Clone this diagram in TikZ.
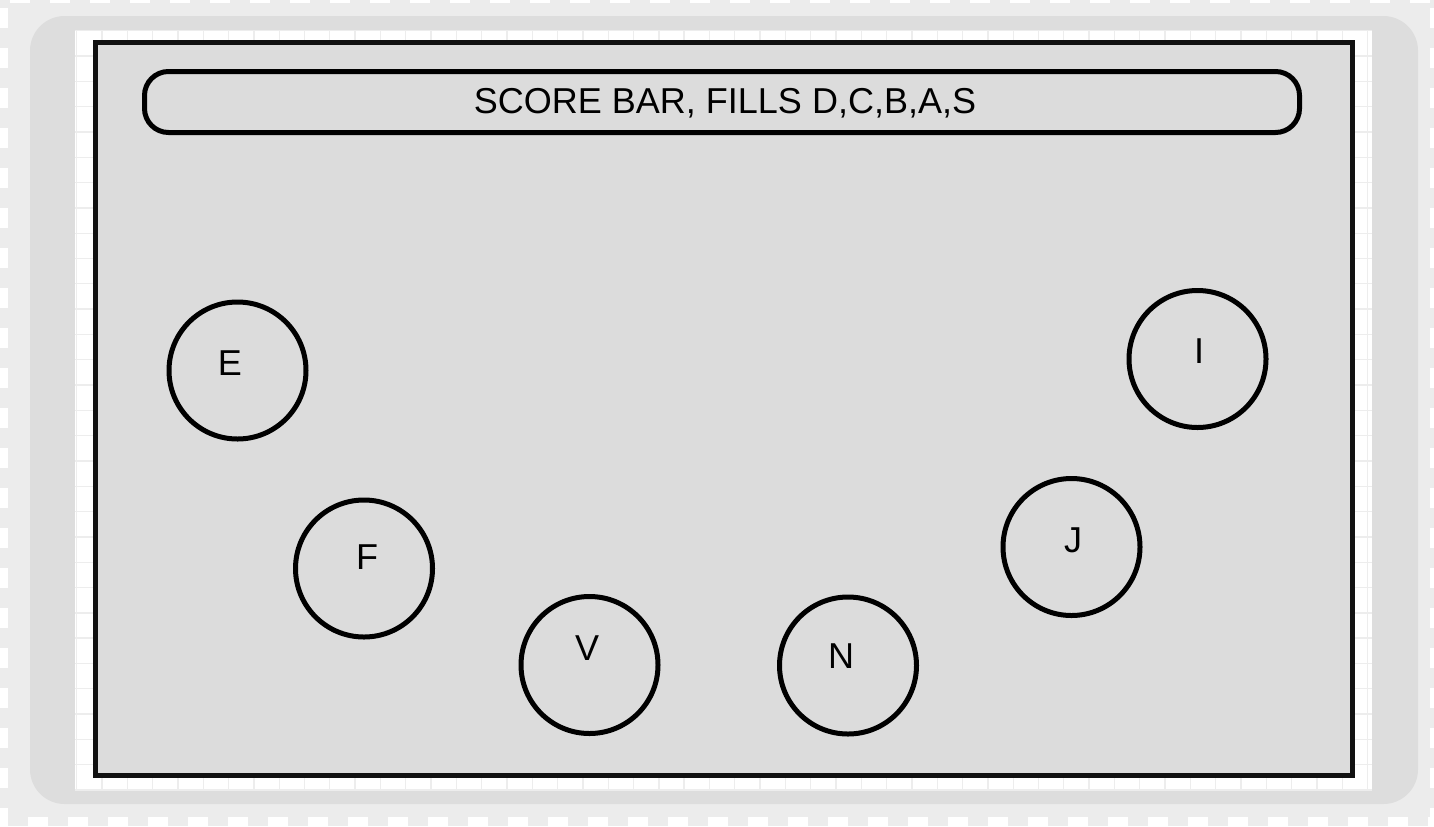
\documentclass[tikz,border=0pt]{standalone}
\usepackage{fontspec}
\setmainfont{Liberation Sans}
\definecolor{outerbg}{HTML}{ECECEC}
\definecolor{framegray}{HTML}{DDDDDD}
\definecolor{panelfill}{HTML}{DCDCDC}
\definecolor{gridc}{HTML}{EDEDED}
\definecolor{inkc}{HTML}{111111}
\tikzset{
  circnode/.style={circle, draw=black, line width=3.75pt, minimum size=137*0.75pt, inner sep=0pt},
  lbl/.style={font=\fontsize{27}{27}\selectfont, text=black, inner sep=0pt},
  barbox/.style={draw=black, line width=3.75pt, rounded corners=18pt, inner sep=0pt},
  edgedash/.style={white, dash pattern=on 15pt off 15pt}
}
\begin{document}
\begin{tikzpicture}[x=0.75pt,y=-0.75pt]
\useasboundingbox (0,0) rectangle (1434,826);
% outer background
\fill[outerbg] (0,0) rectangle (1434,826);
\draw[edgedash, line width=2.25pt, dash phase=22.5pt] (0,1.5) -- (1434,1.5);
\draw[edgedash, line width=6.75pt, dash phase=9pt] (0,821.5) -- (1434,821.5);
\draw[edgedash, line width=6pt, dash phase=24pt] (4,0) -- (4,826);
\draw[edgedash, line width=3pt, dash phase=24pt] (1432,0) -- (1432,826);
% gray rounded frame
\fill[framegray, rounded corners=26pt] (30,16) rectangle (1418,804);
% white grid area
\fill[white] (75,30) rectangle (1372,790);
\foreach \k in {0,...,51} {
  \draw[gridc, line width=1pt] ({76.7+25.31*\k},30) -- ({76.7+25.31*\k},790);
}
\foreach \k in {0,...,30} {
  \draw[gridc, line width=1pt] (75,{30.7+25.31*\k}) -- (1372,{30.7+25.31*\k});
}
% main panel
\draw[inkc, fill=panelfill, line width=3.75pt] (95,42.5) rectangle (1352.5,775);
% score bar
\node[barbox, minimum width=1155*0.75pt, minimum height=61*0.75pt] (bar) at (722,102) {};
\node[lbl] (bartext) at (725,103) {SCORE BAR, FILLS D,C,B,A,S};
% circles
\node[circnode] (E) at (237.5,370.5) {};
\node[circnode] (F) at (364,568.5) {};
\node[circnode] (V) at (589.5,665) {};
\node[circnode] (N) at (848,665.5) {};
\node[circnode] (J) at (1071.5,547) {};
\node[circnode] (I) at (1197.5,359) {};
% labels
\node[lbl] (Et) at (230,363) {E};
\node[lbl] (Ft) at (367,557) {F};
\node[lbl] (Vt) at (587,648) {V};
\node[lbl] (Nt) at (841,656) {N};
\node[lbl] (Jt) at (1073,540) {J};
\node[lbl] (It) at (1199,351) {I};
\end{tikzpicture}
\end{document}
